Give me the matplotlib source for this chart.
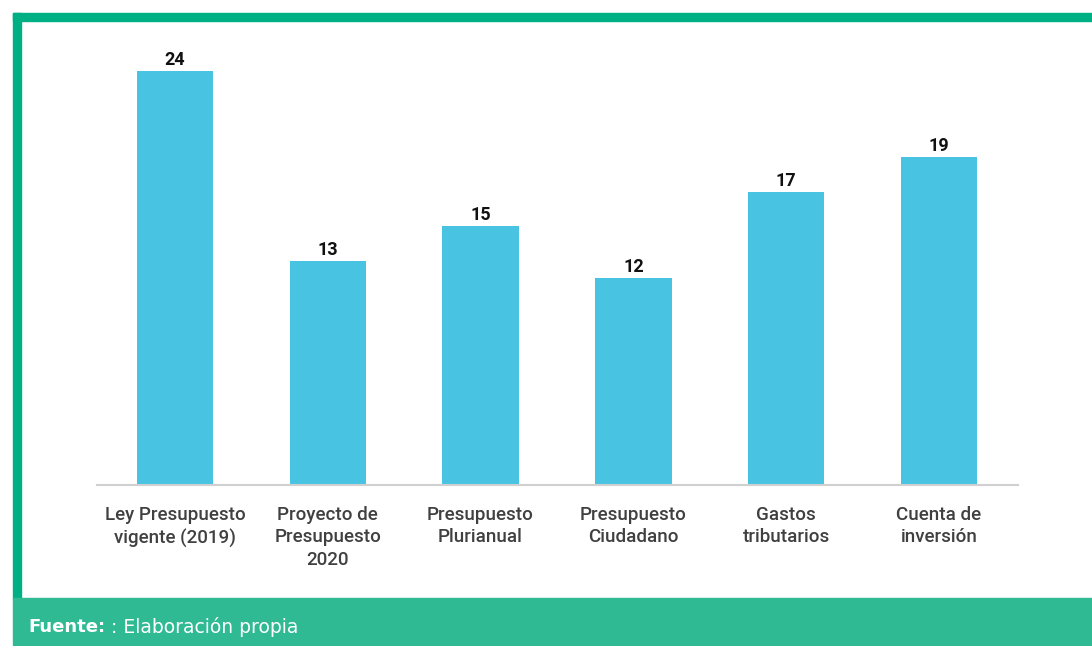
import matplotlib.pyplot as plt
from matplotlib.patches import Rectangle

categories = ["Ley Presupuesto\nvigente (2019)", "Proyecto de\nPresupuesto\n2020",
              "Presupuesto\nPlurianual", "Presupuesto\nCiudadano",
              "Gastos\ntributarios", "Cuenta de\ninversión"]
values = [24, 13, 15, 12, 17, 19]

W, H = 1092, 646
fig = plt.figure(figsize=(W / 100, H / 100), dpi=100)
plt.rcParams['font.family'] = ['Roboto', 'DejaVu Sans']

# frame: green border top/left and footer band
bg = fig.add_axes([0, 0, 1, 1])
bg.set_xlim(0, W)
bg.set_ylim(H, 0)
bg.axis('off')
bg.add_patch(Rectangle((13, 13), W - 13, 8, color='#00b085'))
bg.add_patch(Rectangle((13, 13), 8, 586, color='#00b085'))
bg.add_patch(Rectangle((13, 598), W - 13, 48, color='#2fba94'))
src = bg.text(28, 627, "Fuente:", color='white', fontsize=13, fontweight='heavy',
              family='DejaVu Sans', va='center')
bg.annotate(": Elaboración propia", xy=(1, 0.5), xycoords=src, xytext=(4, 0),
            textcoords='offset points', color='white', fontsize=13.5,
            family='DejaVu Sans', va='center')

# chart area in pixels
left, right, base, top = 97, 1018, 485, 30
ax = fig.add_axes([left / W, (H - base) / H, (right - left) / W, (base - top) / H])
x = range(len(values))
ax.bar(x, values, width=0.5, color='#48c4e2')
ax.set_xlim(-0.51, 5.517)
ax.set_ylim(0, (base - top) / 17.25)
for i, v in enumerate(values):
    ax.text(i, v + 0.13, str(v), ha='center', va='bottom', fontsize=13,
            fontweight='bold', color='#111111')

for s in ['top', 'right', 'left']:
    ax.spines[s].set_visible(False)
ax.spines['bottom'].set_color('#d0d0d0')
ax.spines['bottom'].set_linewidth(1.5)
ax.set_yticks([])
ax.set_xticks(list(x))
ax.set_xticklabels(categories, fontsize=13.5, fontweight='medium', color='#404040',
                   linespacing=1.32)
ax.tick_params(axis='x', length=0, pad=15)
ax.patch.set_alpha(0)

fig.savefig('out.png', dpi=100)
